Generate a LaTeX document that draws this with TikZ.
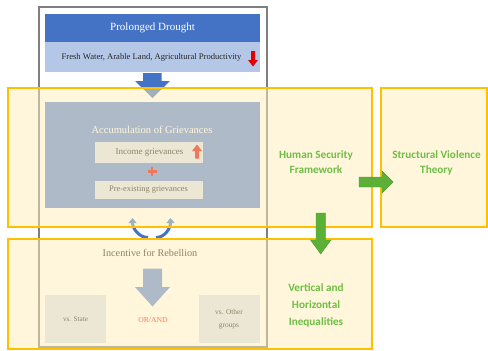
\documentclass[tikz,border=0pt]{standalone}
\usepackage{fontspec}
\setmainfont{Liberation Serif}
\newfontfamily\calib{Carlito}
\usetikzlibrary{arrows.meta}
\definecolor{hdrblue}{HTML}{4472C4}
\definecolor{bandblue}{HTML}{B4C7E7}
\definecolor{grvblue}{HTML}{5F86DC}
\definecolor{paleblue}{HTML}{D9E1F2}
\definecolor{framegray}{HTML}{7F7F7F}
\definecolor{ovl}{HTML}{FFEEB8}
\definecolor{ybord}{HTML}{FFC000}
\definecolor{gtext}{HTML}{6EBE45}
\definecolor{garrow}{HTML}{5CB038}
\definecolor{garrowd}{HTML}{4A9A2C}
\definecolor{darkred}{HTML}{E00000}
\begin{document}
\begin{tikzpicture}[x=1pt,y=-1pt,
  every node/.style={inner sep=0pt, outer sep=0pt, align=center},
  panel/.style={minimum width=215pt},
  lightbox/.style={fill=paleblue, minimum width=#1},
  ovlbox/.style={fill=ovl, fill opacity=0.5, minimum width=#1},
  ybox/.style={draw=ybord, line width=1.8pt, minimum width=#1},
  greentext/.style={text=gtext, font=\calib\bfseries\fontsize{11.2}{15}\selectfont},
  garrowstyle/.style={fill=garrow, draw=garrowd, line width=0.4pt}]
\useasboundingbox (0,0) rectangle (488,351);
\fill[white] (0,0) rectangle (488,351);
% outer frame
\node[draw=framegray, line width=2pt, minimum width=228pt, minimum height=340pt] (frame) at (152.5,177) {};
% header
\node[panel, fill=hdrblue, minimum height=28pt, text=white, font=\fontsize{11}{13}\selectfont] (hdr) at (152.5,28) {Prolonged Drought};
\node[panel, fill=bandblue, minimum height=30pt] (band) at (152.5,57) {};
\node[font=\fontsize{8.6}{9}\selectfont, text=black!85] (fresh) at (151.5,57) {Fresh Water, Arable Land, Agricultural Productivity};
\fill[darkred] (251,51) -- (255,51) -- (255,60) -- (258,60) -- (253,66.5) -- (248,60) -- (251,60) -- cycle;
% blue arrow down
\fill[hdrblue] (143,73) -- (161.5,73) -- (161.5,81) -- (170,81) -- (152.5,98) -- (135,81) -- (143,81) -- cycle;
% grievances
\node[panel, fill=grvblue, minimum height=106pt] (grv) at (152.5,155) {};
\node[text=white, font=\fontsize{10.5}{12}\selectfont] (acc) at (152,130) {Accumulation of Grievances};
\node[lightbox=108pt, minimum height=21pt] (inc) at (148.5,152.5) {};
\node[font=\fontsize{9}{10}\selectfont, text=black!90] (inct) at (149.5,152) {Income grievances};
\fill[darkred] (197,144.5) -- (202,151) -- (199,151) -- (199,158.5) -- (195,158.5) -- (195,151) -- (192,151) -- cycle;
\draw[darkred, line width=2.4pt] (147.5,171.5) -- (156.5,171.5) (152,167) -- (152,176);
\node[lightbox=108pt, minimum height=18pt] (pre) at (149,190) {};
\node[font=\fontsize{8.4}{10}\selectfont, text=black!90] (pret) at (148.5,190) {Pre-existing grievances};
% cycle arrows
\coordinate (cl1) at (148,237.5);
\coordinate (cl2) at (132.5,218);
\coordinate (cr1) at (156,237.5);
\coordinate (cr2) at (170.5,218);
\draw[hdrblue, line width=3pt, -{Triangle[length=5pt,width=8pt]}] (cl1) to[out=180,in=270] (cl2);
\draw[hdrblue, line width=3pt, -{Triangle[length=5pt,width=8pt]}] (cr1) to[out=0,in=270] (cr2);
% lower section
\node[font=\fontsize{10.2}{11}\selectfont, text=black!90] (inc2) at (150,252.5) {Incentive for Rebellion};
\fill[grvblue] (143,268.5) -- (162,268.5) -- (162,287) -- (170,287) -- (152.5,306.5) -- (135,287) -- (143,287) -- cycle;
\node[lightbox=61pt, minimum height=48pt] (vsS) at (75.5,319) {};
\node[font=\fontsize{7.2}{9}\selectfont, text=black!90] at (vsS) {vs. State};
\node[font=\fontsize{7.6}{9}\selectfont, text=red] (orand) at (153,320) {OR/AND};
\node[lightbox=61pt, minimum height=48pt] (vsO) at (229.5,319) {};
\node[font=\fontsize{7.4}{13}\selectfont, text=black!90] at (229,319) {vs. Other\\groups};
% yellow overlays
\node[ovlbox=364pt, minimum height=139pt] (b1) at (190,157.5) {};
\node[ovlbox=364pt, minimum height=110pt] (b2) at (190,294) {};
\node[ovlbox=106pt, minimum height=139pt] (b3) at (434,157.5) {};
\node[ybox=364pt, minimum height=139pt] at (b1) {};
\node[ybox=364pt, minimum height=110pt] at (b2) {};
\node[ybox=106pt, minimum height=139pt] at (b3) {};
% right labels
\node[greentext] (hsf) at (316,162.5) {Human Security\\Framework};
\node[greentext] (svt) at (436.5,163) {Structural Violence\\Theory};
\node[greentext, font=\calib\bfseries\fontsize{11.2}{17}\selectfont] (vhi) at (316,305) {Vertical and\\Horizontal\\Inequalities};
% green arrows
\fill[garrowstyle] (359,177) -- (382,177) -- (382,171) -- (393,182) -- (382,193) -- (382,187) -- (359,187) -- cycle;
\fill[garrowstyle] (316,213) -- (325.5,213) -- (325.5,240) -- (331,240) -- (320.75,254) -- (310.5,240) -- (316,240) -- cycle;
\end{tikzpicture}
\end{document}
